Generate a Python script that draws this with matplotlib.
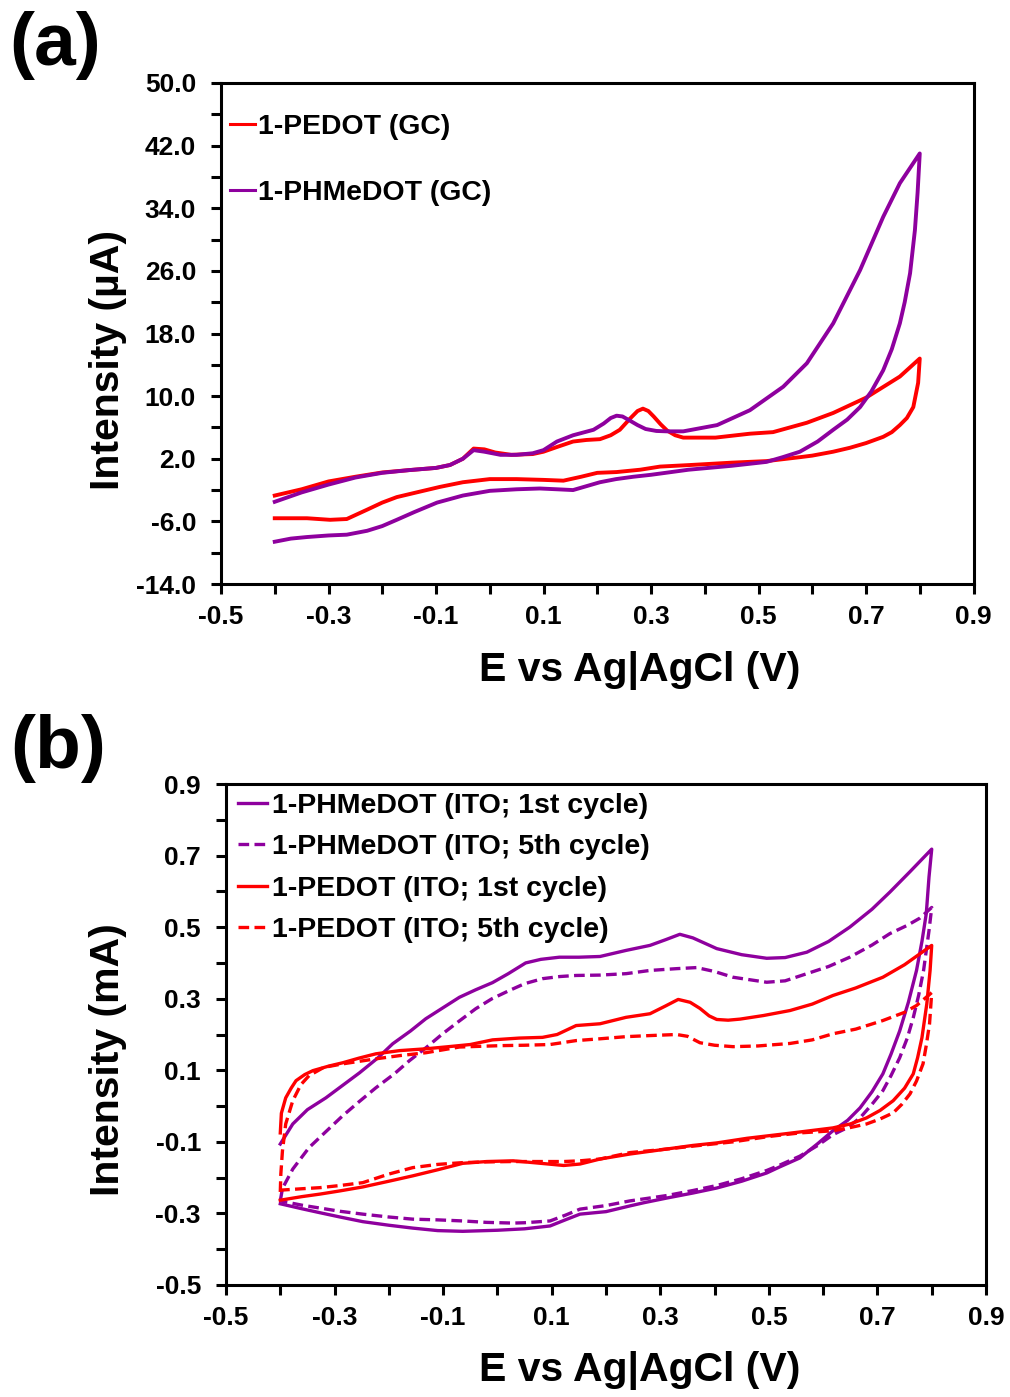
import matplotlib
matplotlib.use('Agg')
import matplotlib.pyplot as plt

plt.rcParams['font.family'] = ['Liberation Sans', 'DejaVu Sans']
plt.rcParams['font.weight'] = 'bold'
plt.rcParams['axes.unicode_minus'] = False

RED = '#FF0000'
PURPLE = '#8E009E'

# ---------- (a) GC electrode, uA ----------
pedot_gc_fwd_x = [-0.40, -0.35, -0.30, -0.25, -0.20, -0.15, -0.10, -0.074, -0.05, -0.03, -0.01, 0.01, 0.04,
                  0.08, 0.10, 0.125, 0.155, 0.18, 0.205, 0.225, 0.242, 0.262, 0.275, 0.285, 0.295, 0.305,
                  0.318, 0.33, 0.345, 0.36, 0.42, 0.484, 0.527, 0.59, 0.639, 0.70, 0.763, 0.80]
pedot_gc_fwd_y = [-2.7, -1.9, -0.9, -0.3, 0.25, 0.55, 0.83, 1.2, 2.0, 3.3, 3.2, 2.8, 2.5,
                  2.6, 2.9, 3.5, 4.2, 4.4, 4.5, 5.0, 5.7, 7.2, 8.1, 8.4, 8.1, 7.4,
                  6.4, 5.6, 5.0, 4.7, 4.7, 5.2, 5.4, 6.6, 7.85, 9.8, 12.5, 14.8]
pedot_gc_rev_x = [0.80, 0.797, 0.788, 0.776, 0.763, 0.748, 0.732, 0.70, 0.67, 0.639, 0.60, 0.577, 0.515,
                  0.45, 0.373, 0.317, 0.28, 0.236, 0.20, 0.17, 0.137, 0.10, 0.05, 0.0, -0.05, -0.093,
                  -0.13, -0.173, -0.20, -0.228, -0.266, -0.297, -0.34, -0.40]
pedot_gc_rev_y = [14.8, 11.7, 8.6, 7.2, 6.3, 5.4, 4.8, 4.0, 3.4, 2.9, 2.4, 2.2, 1.7,
                  1.5, 1.2, 1.0, 0.6, 0.3, 0.2, -0.3, -0.8, -0.7, -0.6, -0.6, -1.0, -1.6,
                  -2.2, -2.9, -3.6, -4.5, -5.7, -5.8, -5.6, -5.6]

phmedot_gc_fwd_x = [-0.40, -0.35, -0.30, -0.25, -0.20, -0.15, -0.10, -0.074, -0.05, -0.03, -0.01, 0.02, 0.05,
                    0.08, 0.10, 0.125, 0.155, 0.193, 0.212, 0.225, 0.236, 0.247, 0.26, 0.275, 0.29, 0.31,
                    0.33, 0.36, 0.423, 0.484, 0.546, 0.59, 0.639, 0.689, 0.732, 0.763, 0.80]
phmedot_gc_fwd_y = [-3.5, -2.3, -1.3, -0.4, 0.2, 0.55, 0.83, 1.2, 2.0, 3.1, 2.9, 2.5, 2.5,
                    2.7, 3.1, 4.2, 5.0, 5.7, 6.5, 7.2, 7.5, 7.4, 6.9, 6.3, 5.8, 5.55,
                    5.5, 5.5, 6.3, 8.2, 11.2, 14.2, 19.3, 26.1, 32.9, 37.2, 41.0]
phmedot_gc_rev_x = [0.80, 0.796, 0.791, 0.782, 0.772, 0.763, 0.748, 0.732, 0.71, 0.689, 0.665, 0.639, 0.61,
                    0.577, 0.545, 0.515, 0.45, 0.37, 0.30, 0.267, 0.235, 0.205, 0.18, 0.155, 0.125, 0.093,
                    0.05, 0.0, -0.05, -0.098, -0.14, -0.173, -0.20, -0.228, -0.266, -0.30, -0.34, -0.37, -0.40]
phmedot_gc_rev_y = [41.0, 36.0, 31.2, 25.7, 22.0, 19.3, 16.0, 13.3, 10.6, 8.6, 7.0, 5.7, 4.2,
                    2.9, 2.2, 1.6, 1.1, 0.6, -0.05, -0.3, -0.6, -1.0, -1.5, -2.0, -1.9, -1.8,
                    -1.9, -2.1, -2.7, -3.6, -4.8, -5.8, -6.6, -7.2, -7.7, -7.8, -8.0, -8.2, -8.6]

# ---------- (b) ITO electrode, mA ----------
phm1_fwd_x = [-0.40, -0.377, -0.35, -0.316, -0.285, -0.254, -0.22, -0.193, -0.16, -0.132, -0.10, -0.07, -0.04,
              -0.009, 0.02, 0.052, 0.08, 0.114, 0.15, 0.189, 0.237, 0.281, 0.31, 0.336, 0.36, 0.404, 0.45,
              0.496, 0.53, 0.57, 0.61, 0.649, 0.69, 0.723, 0.76, 0.80]
phm1_fwd_y = [-0.106, -0.05, -0.01, 0.023, 0.058, 0.093, 0.135, 0.174, 0.21, 0.244, 0.275, 0.304, 0.325,
              0.345, 0.37, 0.40, 0.41, 0.416, 0.416, 0.418, 0.435, 0.449, 0.465, 0.48, 0.47, 0.44, 0.423,
              0.413, 0.415, 0.43, 0.46, 0.50, 0.55, 0.598, 0.655, 0.718]
phm1_rev_x = [0.80, 0.795, 0.79, 0.782, 0.772, 0.757, 0.741, 0.725, 0.71, 0.69, 0.668, 0.645, 0.618,
              0.59, 0.557, 0.52, 0.496, 0.45, 0.404, 0.36, 0.312, 0.27, 0.244, 0.2, 0.152, 0.125, 0.097,
              0.05, 0.0, -0.064, -0.11, -0.156, -0.20, -0.248, -0.29, -0.327, -0.36, -0.40]
phm1_rev_y = [0.718, 0.64, 0.538, 0.46, 0.379, 0.29, 0.21, 0.145, 0.09, 0.04, -0.005, -0.04, -0.069,
              -0.105, -0.145, -0.17, -0.187, -0.21, -0.229, -0.243, -0.257, -0.27, -0.279, -0.295, -0.302, -0.318, -0.335,
              -0.343, -0.347, -0.35, -0.348, -0.341, -0.333, -0.323, -0.31, -0.298, -0.287, -0.273]

phm5_fwd_x = [-0.40, -0.396, -0.377, -0.347, -0.315, -0.285, -0.255, -0.224, -0.19, -0.162, -0.13, -0.101, -0.07,
              -0.04, -0.01, 0.022, 0.05, 0.083, 0.115, 0.145, 0.189, 0.237, 0.281, 0.33, 0.367, 0.40, 0.434,
              0.496, 0.53, 0.57, 0.61, 0.649, 0.69, 0.723, 0.755, 0.778, 0.80]
phm5_fwd_y = [-0.265, -0.23, -0.176, -0.116, -0.07, -0.027, 0.012, 0.051, 0.09, 0.127, 0.165, 0.202, 0.238,
              0.272, 0.3, 0.323, 0.342, 0.356, 0.362, 0.365, 0.366, 0.37, 0.379, 0.384, 0.387, 0.376, 0.36,
              0.346, 0.35, 0.37, 0.39, 0.416, 0.45, 0.482, 0.505, 0.525, 0.555]
phm5_rev_x = [0.80, 0.795, 0.785, 0.776, 0.766, 0.755, 0.741, 0.725, 0.71, 0.69, 0.668, 0.645, 0.618,
              0.59, 0.557, 0.52, 0.496, 0.45, 0.404, 0.36, 0.312, 0.244, 0.2, 0.152, 0.125, 0.097, 0.05,
              0.029, -0.02, -0.064, -0.11, -0.156, -0.20, -0.248, -0.29, -0.327, -0.36, -0.40]
phm5_rev_y = [0.555, 0.49, 0.379, 0.31, 0.247, 0.19, 0.135, 0.085, 0.043, 0.005, -0.033, -0.06, -0.08,
              -0.11, -0.14, -0.165, -0.18, -0.203, -0.222, -0.236, -0.25, -0.265, -0.278, -0.288, -0.305, -0.321, -0.326,
              -0.327, -0.325, -0.321, -0.318, -0.316, -0.31, -0.302, -0.294, -0.285, -0.277, -0.265]

ped1_fwd_x = [-0.40, -0.398, -0.39, -0.38, -0.371, -0.355, -0.34, -0.31, -0.285, -0.255, -0.224, -0.18, -0.132,
              -0.09, -0.05, -0.009, 0.04, 0.083, 0.11, 0.145, 0.189, 0.237, 0.281, 0.31, 0.333, 0.355, 0.373,
              0.39, 0.404, 0.425, 0.447, 0.49, 0.539, 0.58, 0.618, 0.66, 0.71, 0.75, 0.80]
ped1_fwd_y = [-0.075, -0.02, 0.023, 0.05, 0.071, 0.088, 0.099, 0.112, 0.121, 0.134, 0.146, 0.155, 0.16,
              0.166, 0.172, 0.185, 0.19, 0.192, 0.2, 0.225, 0.23, 0.248, 0.258, 0.28, 0.298, 0.29, 0.273,
              0.252, 0.242, 0.24, 0.243, 0.253, 0.267, 0.285, 0.309, 0.33, 0.36, 0.395, 0.449]
ped1_rev_x = [0.80, 0.797, 0.791, 0.782, 0.774, 0.766, 0.75, 0.729, 0.705, 0.68, 0.65, 0.618, 0.57,
              0.527, 0.46, 0.404, 0.36, 0.312, 0.244, 0.189, 0.152, 0.122, 0.08, 0.029, -0.02, -0.064,
              -0.11, -0.156, -0.20, -0.248, -0.29, -0.327, -0.36, -0.40]
ped1_rev_y = [0.449, 0.379, 0.286, 0.191, 0.135, 0.09, 0.05, 0.015, -0.012, -0.033, -0.05, -0.061, -0.07,
              -0.078, -0.09, -0.103, -0.11, -0.12, -0.134, -0.148, -0.162, -0.166, -0.16, -0.153, -0.155, -0.16,
              -0.178, -0.195, -0.21, -0.226, -0.237, -0.246, -0.253, -0.263]

ped5_fwd_x = [-0.40, -0.399, -0.396, -0.39, -0.377, -0.362, -0.347, -0.32, -0.285, -0.224, -0.18, -0.132, -0.07,
              -0.032, 0.01, 0.05, 0.097, 0.145, 0.189, 0.237, 0.281, 0.33, 0.35, 0.373, 0.40, 0.434, 0.48,
              0.539, 0.58, 0.618, 0.66, 0.71, 0.75, 0.772, 0.80]
ped5_fwd_y = [-0.24, -0.19, -0.125, -0.05, 0.015, 0.06, 0.085, 0.108, 0.118, 0.132, 0.141, 0.149, 0.165,
              0.167, 0.169, 0.17, 0.172, 0.183, 0.188, 0.194, 0.197, 0.2, 0.195, 0.177, 0.17, 0.166, 0.168,
              0.175, 0.185, 0.202, 0.215, 0.239, 0.262, 0.281, 0.317]
ped5_rev_x = [0.80, 0.796, 0.79, 0.784, 0.772, 0.76, 0.745, 0.729, 0.705, 0.68, 0.65, 0.618, 0.557,
              0.50, 0.434, 0.36, 0.30, 0.244, 0.189, 0.152, 0.122, 0.08, 0.029, -0.02, -0.064, -0.11,
              -0.156, -0.20, -0.248, -0.29, -0.327, -0.36, -0.40]
ped5_rev_y = [0.317, 0.23, 0.17, 0.118, 0.07, 0.034, 0.005, -0.019, -0.036, -0.05, -0.06, -0.069, -0.075,
              -0.085, -0.1, -0.112, -0.122, -0.13, -0.148, -0.153, -0.155, -0.155, -0.155, -0.156, -0.158, -0.163,
              -0.172, -0.19, -0.214, -0.222, -0.228, -0.231, -0.235]

x_ticks = [-0.5, -0.3, -0.1, 0.1, 0.3, 0.5, 0.7, 0.9]
x_minor = [-0.4, -0.2, 0.0, 0.2, 0.4, 0.6, 0.8]
ya_ticks = [-14, -6, 2, 10, 18, 26, 34, 42, 50]
ya_minor = [-10, -2, 6, 14, 22, 30, 38, 46]
yb_ticks = [-0.5, -0.3, -0.1, 0.1, 0.3, 0.5, 0.7, 0.9]
yb_minor = [-0.4, -0.2, 0.0, 0.2, 0.4, 0.6, 0.8]


def style(ax, yticks, yminor):
	for s in ax.spines.values():
		s.set_linewidth(2.2)
	ax.set_xticks(x_ticks)
	ax.set_xticks(x_minor, minor=True)
	ax.set_yticks(yticks)
	ax.set_yticks(yminor, minor=True)
	ax.set_xticklabels(['%.1f' % v for v in x_ticks])
	ax.set_yticklabels(['%.1f' % v for v in yticks])
	ax.tick_params(which='both', direction='out', length=7, width=2.2, top=False, right=False)
	ax.tick_params(axis='x', which='major', labelsize=19, pad=8)
	ax.tick_params(axis='y', which='major', labelsize=19, pad=11)


W, H = 1010.0, 1397.0
fig = plt.figure(figsize=(10.10, 13.97), dpi=100)

# panel (a)
ax1 = fig.add_axes([221 / W, 1 - 584 / H, 752.5 / W, 501 / H])
ax1.plot(pedot_gc_fwd_x + pedot_gc_rev_x, pedot_gc_fwd_y + pedot_gc_rev_y, color=RED, lw=2.8,
		 label='1-PEDOT (GC)')
ax1.plot(phmedot_gc_fwd_x + phmedot_gc_rev_x, phmedot_gc_fwd_y + phmedot_gc_rev_y, color=PURPLE, lw=2.8,
		 label='1-PHMeDOT (GC)')
ax1.set_xlim(-0.5, 0.9)
ax1.set_ylim(-14, 50)
style(ax1, ya_ticks, ya_minor)
leg1 = ax1.legend(loc='upper left', bbox_to_anchor=(0.012, 0.939), frameon=False, fontsize=20.4,
				  handlelength=0.88, handletextpad=0.1, labelspacing=1.42, borderpad=0, borderaxespad=0)
for l in leg1.get_lines():
	l.set_linewidth(2.2)

# panel (b)
ax2 = fig.add_axes([226 / W, 1 - 1285 / H, 760 / W, 501 / H])
ax2.plot(phm1_fwd_x + phm1_rev_x, phm1_fwd_y + phm1_rev_y, color=PURPLE, lw=2.4,
		 label='1-PHMeDOT (ITO; 1st cycle)')
ax2.plot(phm5_fwd_x + phm5_rev_x, phm5_fwd_y + phm5_rev_y, color=PURPLE, lw=2.4, dashes=(3.2, 1.6),
		 label='1-PHMeDOT (ITO; 5th cycle)')
ax2.plot(ped1_fwd_x + ped1_rev_x, ped1_fwd_y + ped1_rev_y, color=RED, lw=2.4,
		 label='1-PEDOT (ITO; 1st cycle)')
ax2.plot(ped5_fwd_x + ped5_rev_x, ped5_fwd_y + ped5_rev_y, color=RED, lw=2.4, dashes=(3.2, 1.6),
		 label='1-PEDOT (ITO; 5th cycle)')
ax2.set_xlim(-0.5, 0.9)
ax2.set_ylim(-0.5, 0.9)
style(ax2, yb_ticks, yb_minor)
leg2 = ax2.legend(loc='upper left', bbox_to_anchor=(0.016, 0.982), frameon=False, fontsize=20.5,
				  handlelength=1.0, handletextpad=0.2, labelspacing=0.54, borderpad=0, borderaxespad=0)

# axis labels and panel tags
fig.text(640 / W, 1 - 670 / H, 'E vs Ag|AgCl (V)', ha='center', va='center', fontsize=29.5, fontweight='bold')
fig.text(640 / W, 1 - 1370 / H, 'E vs Ag|AgCl (V)', ha='center', va='center', fontsize=29.5, fontweight='bold')
fig.text(108 / W, 1 - 360 / H, 'Intensity (µA)', ha='center', va='center', rotation=90, fontsize=29.5,
		 fontweight='bold')
fig.text(108 / W, 1 - 1060 / H, 'Intensity (mA)', ha='center', va='center', rotation=90, fontsize=29.5,
		 fontweight='bold')
fig.text(55 / W, 1 - 45 / H, '(a)', ha='center', va='center', fontsize=54, fontweight='bold')
fig.text(58 / W, 1 - 748 / H, '(b)', ha='center', va='center', fontsize=54, fontweight='bold')

fig.savefig('out.png', dpi=100)
